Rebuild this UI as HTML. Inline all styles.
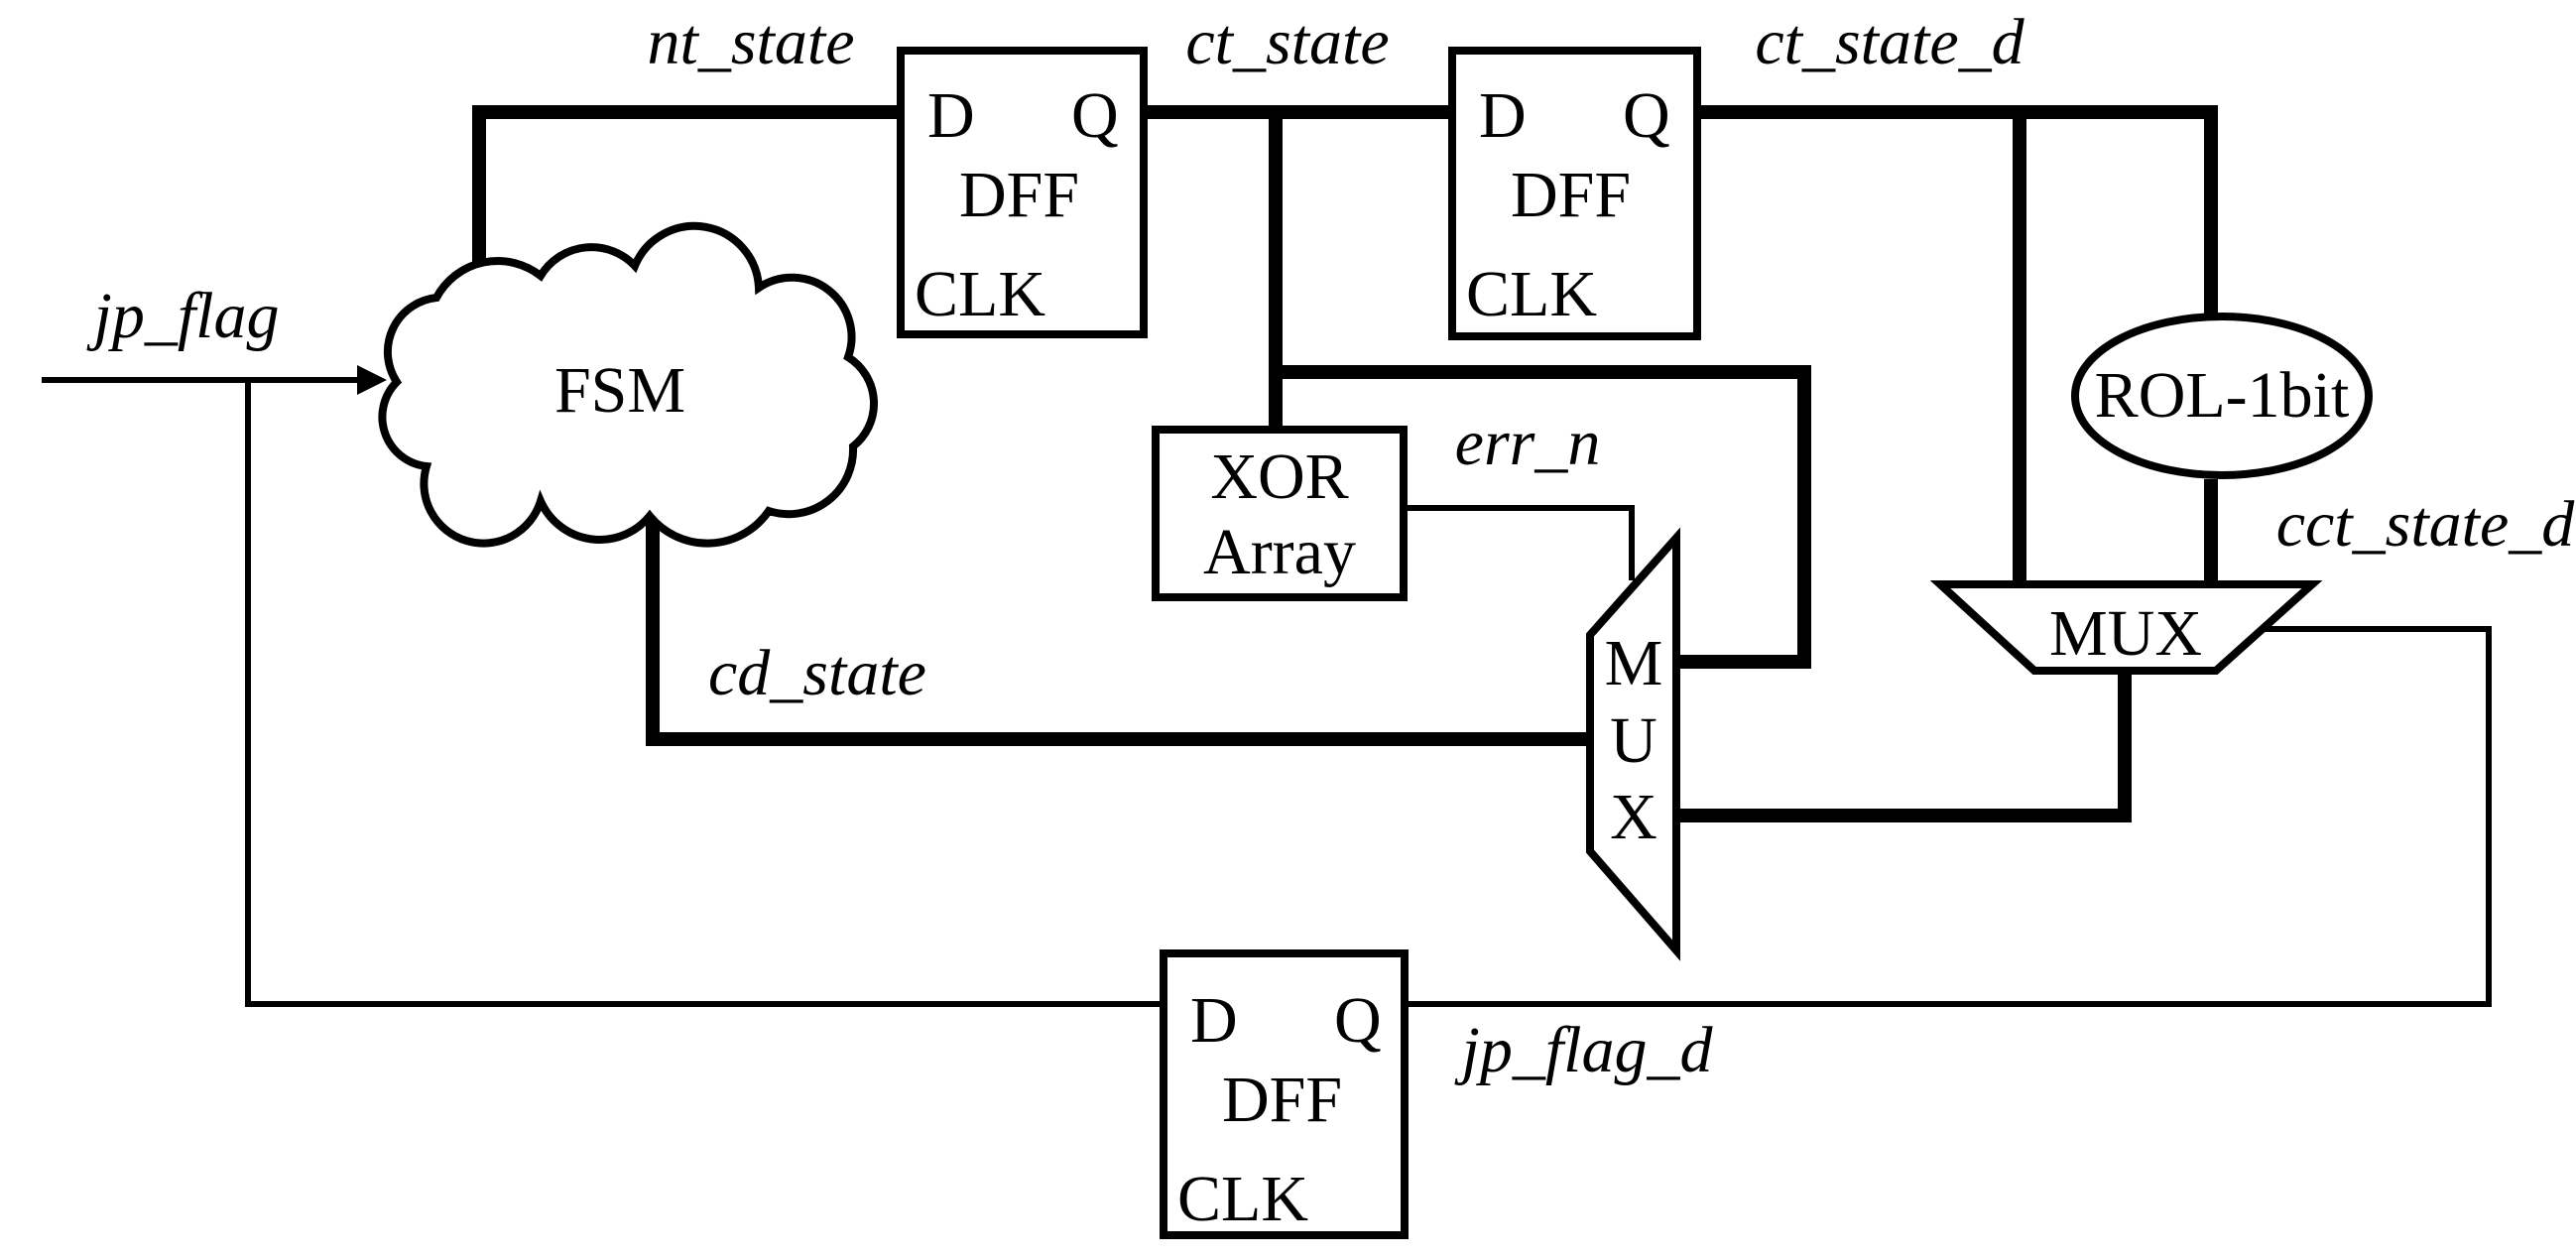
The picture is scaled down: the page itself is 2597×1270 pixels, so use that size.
<!DOCTYPE html>
<html><head><meta charset="utf-8"><style>
html,body{margin:0;padding:0;background:#fff;}
svg{display:block;}
text{font-family:"Liberation Serif",serif;font-size:66px;fill:#000;}
.i{font-style:italic;}
</style></head><body>
<svg width="2597" height="1270" viewBox="0 0 2597 1270" xmlns="http://www.w3.org/2000/svg">
<g fill="none" stroke="#000" stroke-linejoin="miter">
<!-- thick buses -->
<g stroke-width="14">
<polyline points="483,300 483,113 904,113"/>
<polyline points="1157,113 1460,113"/>
<polyline points="1286,113 1286,429"/>
<polyline points="1286,375 1819,375 1819,667 1692,667"/>
<polyline points="1715,113 2229,113 2229,316"/>
<polyline points="2036,113 2036,587"/>
<polyline points="2229,483 2229,587"/>
<polyline points="658,505 658,745 1601,745"/>
<polyline points="1692,822 2142,822 2142,678"/>
</g>
<!-- thin lines -->
<g stroke-width="6">
<line x1="42" y1="383" x2="370" y2="383"/>
<polyline points="250,383 250,1012 1169,1012"/>
<polyline points="1420,1012 2509,1012 2509,634 2283,634"/>
<polyline points="1419,512 1645,512 1645,585"/>
</g>
<!-- boxes -->
<g stroke-width="8" fill="#fff">
<rect x="908" y="51" width="245" height="286"/>
<rect x="1464" y="51" width="247" height="288"/>
<rect x="1173" y="961" width="243" height="284"/>
<rect x="1165" y="433" width="250" height="169"/>
<ellipse cx="2240" cy="399" rx="148" ry="80"/>
<polygon points="1690,542 1690,958 1603,858 1603,640"/>
<polygon points="1956,589 2331,589 2234,676 2051,676"/>
<path d="M400,385 A55,55 0 0 1 440,300 A70,70 0 0 1 545,278 A60,60 0 0 1 640,268 A65,65 0 0 1 765,290 A60,60 0 0 1 855,360 A55,55 0 0 1 860,450 A65,65 0 0 1 775,515 A75,75 0 0 1 655,520 A65,65 0 0 1 545,505 A60,60 0 0 1 430,470 A50,50 0 0 1 400,385 Z"/>
</g>
<polygon points="360,368 390,383 360,398" fill="#000" stroke="none"/>
</g>
<!-- DFF texts -->
<text x="935" y="138">D</text><text x="1080" y="138">Q</text><text x="967" y="218">DFF</text><text x="922" y="318">CLK</text>
<text x="1491" y="138">D</text><text x="1636" y="138">Q</text><text x="1523" y="218">DFF</text><text x="1478" y="318">CLK</text>
<text x="1200" y="1050">D</text><text x="1345" y="1050">Q</text><text x="1232" y="1130">DFF</text><text x="1187" y="1230">CLK</text>
<text x="1290" y="502" text-anchor="middle">XOR</text>
<text x="1290" y="578" text-anchor="middle">Array</text>
<text x="2240" y="420" text-anchor="middle">ROL-1bit</text>
<text x="2143" y="660" text-anchor="middle">MUX</text>
<text x="1647" y="690" text-anchor="middle">M</text>
<text x="1647" y="768" text-anchor="middle">U</text>
<text x="1647" y="845" text-anchor="middle">X</text>
<text x="625" y="415" text-anchor="middle">FSM</text>
<!-- italic labels -->
<text class="i" x="757" y="64" text-anchor="middle">nt_state</text>
<text class="i" x="1298" y="64" text-anchor="middle">ct_state</text>
<text class="i" x="1905" y="64" text-anchor="middle">ct_state_d</text>
<text class="i" x="188" y="340" text-anchor="middle">jp_flag</text>
<text class="i" x="1540" y="468" text-anchor="middle">err_n</text>
<text class="i" x="2445" y="550" text-anchor="middle">cct_state_d</text>
<text class="i" x="824" y="700" text-anchor="middle">cd_state</text>
<text class="i" x="1600" y="1080" text-anchor="middle">jp_flag_d</text>
</svg>
</body></html>
